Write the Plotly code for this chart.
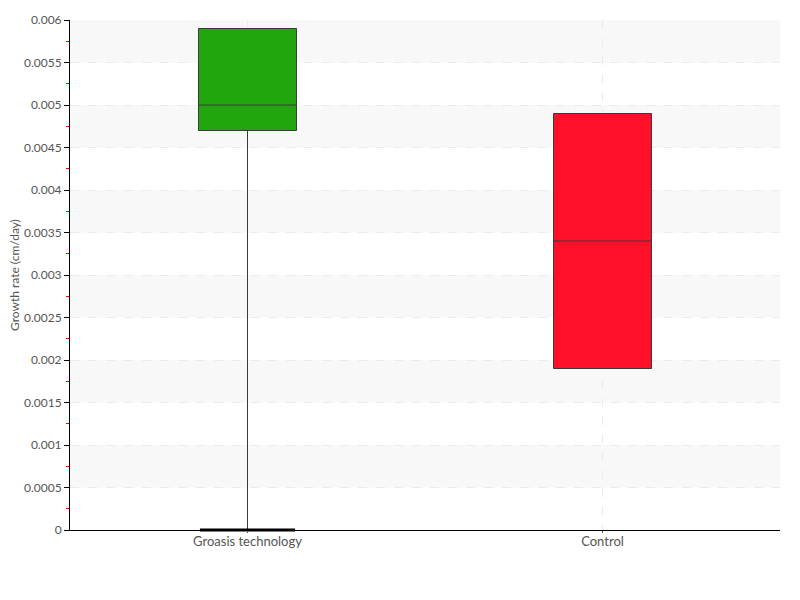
import plotly.graph_objects as go

groups = ["Groasis technology", "Control"]
q1 = [0.0047, 0.0019]
median = [0.0050, 0.0034]
q3 = [0.0059, 0.0049]
low = [0.0, 0.0019]
high = [0.0059, 0.0049]
colors = ["#22a50f", "#ff0f28"]
yticks = [0, 0.0005, 0.001, 0.0015, 0.002, 0.0025, 0.003, 0.0035, 0.004, 0.0045, 0.005, 0.0055, 0.006]
ylabels = ["0", "0.0005", "0.001", "0.0015", "0.002", "0.0025", "0.003", "0.0035", "0.004", "0.0045", "0.005", "0.0055", "0.006"]

font_family = "Lato, Roboto, sans-serif"

fig = go.Figure()
for i, g in enumerate(groups):
    fig.add_trace(go.Box(
        x=[g], q1=[q1[i]], median=[median[i]], q3=[q3[i]],
        lowerfence=[low[i]], upperfence=[high[i]],
        fillcolor=colors[i], line=dict(color="#3a3a3a", width=1),
        width=0.276, showlegend=False, hoverinfo="skip"))

# cap at the lower whisker end of the first box
fig.add_trace(go.Scatter(
    x=[groups[0]], y=[low[0]], mode="markers",
    marker=dict(symbol="line-ew", size=68, line=dict(color="black", width=3)),
    showlegend=False, hoverinfo="skip", cliponaxis=False))

# alternating background bands
shapes = []
for k in range(len(yticks) - 1):
    if k % 2 == 1:
        shapes.append(dict(type="rect", xref="paper", yref="y", x0=0, x1=1,
                           y0=yticks[k], y1=yticks[k + 1],
                           fillcolor="#f8f8f8", line=dict(width=0), layer="below"))

fig.update_layout(
    width=800, height=600,
    margin=dict(l=62, r=28, t=12, b=78, autoexpand=False),
    plot_bgcolor="white", paper_bgcolor="white",
    font=dict(family=font_family, size=12, color="#555"),
    shapes=shapes,
    xaxis=dict(range=[-0.5, 1.5], showline=True, linecolor="black", linewidth=1,
               showgrid=True, gridcolor="#ebebeb", griddash="dash",
               ticks="outside", ticklen=2, tickcolor="#555", ticklabelstandoff=-3,
               tickfont=dict(size=13, color="#555"), zeroline=False, automargin=False),
    yaxis=dict(range=[0, 0.006], tickvals=yticks, ticktext=ylabels,
               showline=True, linecolor="black", linewidth=1,
               showgrid=True, gridcolor="#ebebeb", griddash="dash",
               ticks="outside", ticklen=5, tickcolor="black",
               minor=dict(ticks="outside", ticklen=3, tickcolor="red",
                          dtick=0.00025, showgrid=False),
               tickfont=dict(size=12, color="#555"), zeroline=False, automargin=False),
    annotations=[dict(text="Growth rate (cm/day)", textangle=-90, showarrow=False,
                      xref="paper", yref="paper", x=0, y=0.5, xanchor="center",
                      yanchor="middle", xshift=-56,
                      font=dict(size=12, color="#555"))],
)

fig.write_html("out.html")
